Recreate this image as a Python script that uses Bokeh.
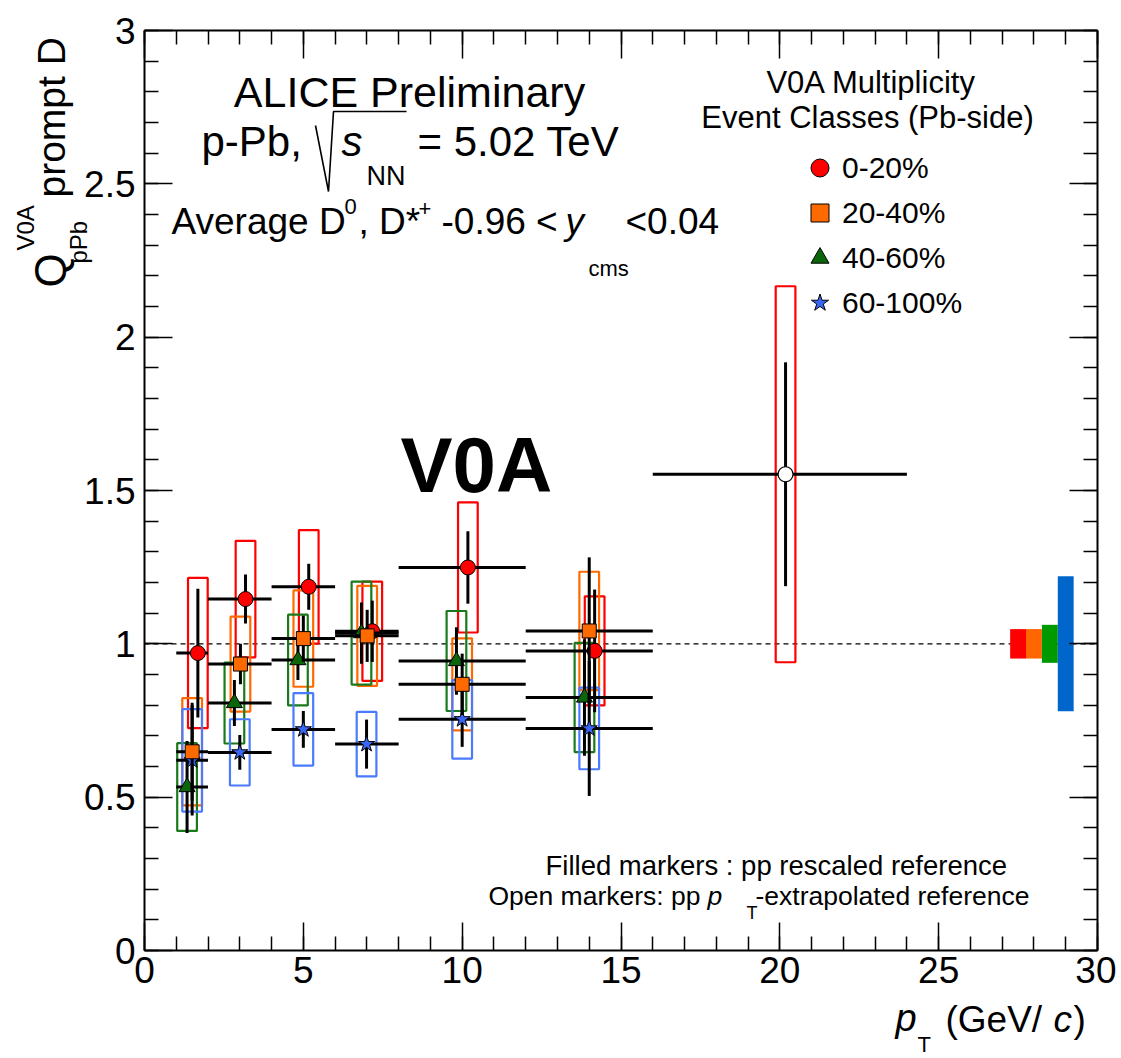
import numpy as np
from bokeh.plotting import figure
from bokeh.models import (Range1d, LinearAxis, SingleIntervalTicker, CustomJSTickFormatter,
                          Label, Legend, LegendItem)
from bokeh.embed import file_html
from bokeh.resources import INLINE

# ---------------- data ----------------
bin_lo = [1, 2, 4, 6, 8, 12]
bin_hi = [2, 4, 6, 8, 12, 16]

# 0-20 %
red_x = [1.68, 3.18, 5.17, 7.17, 10.18, 14.17]
red_y = [0.970, 1.146, 1.186, 1.041, 1.249, 0.977]
red_stat = [0.21, 0.08, 0.075, 0.10, 0.118, 0.20]
red_syst = [0.245, 0.19, 0.185, 0.162, 0.212, 0.178]
# 0-20 %, pp pT-extrapolated reference (open marker)
ext_lo = [16]
ext_hi = [24]
ext_x = [20.18]
ext_y = [1.553]
ext_stat = [0.365]
ext_syst = [0.613]

# 20-40 %
ora_x = [1.50, 3.02, 5.00, 7.01, 10.00, 14.00]
ora_y = [0.648, 0.934, 1.017, 1.026, 0.868, 1.042]
ora_stat = [0.16, 0.066, 0.075, 0.085, 0.10, 0.24]
ora_syst = [0.175, 0.155, 0.157, 0.163, 0.150, 0.193]

# 40-60 %
grn_x = [1.34, 2.83, 4.83, 6.83, 9.82, 13.85]
grn_y = [0.533, 0.807, 0.947, 1.035, 0.944, 0.825]
grn_stat = [0.15, 0.075, 0.065, 0.10, 0.11, 0.19]
grn_syst = [0.143, 0.132, 0.148, 0.168, 0.163, 0.178]

# 60-100 %
blu_x = [1.50, 3.00, 5.00, 6.99, 10.00, 14.00]
blu_y = [0.620, 0.646, 0.721, 0.673, 0.754, 0.724]
blu_stat = [0.18, 0.057, 0.06, 0.08, 0.09, 0.22]
blu_syst = [0.167, 0.108, 0.118, 0.105, 0.128, 0.133]

# normalisation uncertainties (boxes at unity)
norm_x = [27.5, 28.0, 28.5, 29.0]
norm_unc = [0.048, 0.048, 0.062, 0.220]

class_labels = ["0-20%", "20-40%", "40-60%", "60-100%"]
x_min, x_max = 0, 30
y_min, y_max = 0, 3
x_ticks_interval = 5
y_ticks_interval = 0.5

# ---------------- styles ----------------
FONT = "Liberation Sans"
C_RED = "#FF0000"
C_ORA = "#FF6A00"
C_GRN_M = "#0B660B"
C_GRN_B = "#1A7A1A"
C_BLU_M = "#3A66F5"
C_BLU_B = "#4A7BFF"
NORM_COLORS = ["#FF0000", "#FF6600", "#009900", "#0066CC"]
BOX_HW = 0.31
BASE_SHIFT = 0.37   # Label anchor sits this fraction of the font size above the baseline

W, H = 1116, 1056
# axes box position in page pixels
FL, FR, FT, FB = 144, 1097, 30, 950
sx = (FR - FL) / (x_max - x_min)
sy = (FB - FT) / (y_max - y_min)


def dx(px):
    return x_min + (px - FL) / sx


def dy(py):
    return y_min + (FB - py) / sy


# the frame fills the whole canvas; axes are pinned at the data box edges
p = figure(width=W, height=H,
           x_range=Range1d(dx(0), dx(W)), y_range=Range1d(dy(H), dy(0)),
           output_backend="svg", toolbar_location=None, min_border=0)
p.xgrid.visible = False
p.ygrid.visible = False
p.outline_line_color = None
p.background_fill_color = "white"
p.border_fill_color = "white"

xt = SingleIntervalTicker(interval=x_ticks_interval, num_minor_ticks=5)
yt = SingleIntervalTicker(interval=y_ticks_interval, num_minor_ticks=5)
fmt = CustomJSTickFormatter(code="return (Math.round(tick*10)/10).toString();")
blank = CustomJSTickFormatter(code="return '';")

bottom_ax = p.below[0]
left_ax = p.left[0]
bottom_ax.ticker = xt
left_ax.ticker = yt
bottom_ax.formatter = fmt
left_ax.formatter = fmt
bottom_ax.fixed_location = y_min
left_ax.fixed_location = x_min

top_ax = LinearAxis(ticker=xt, formatter=blank, fixed_location=y_max)
right_ax = LinearAxis(ticker=yt, formatter=blank, fixed_location=x_max)
p.add_layout(top_ax, "above")
p.add_layout(right_ax, "right")

for ax in [bottom_ax, top_ax]:
    ax.bounds = (x_min, x_max)
for ax in [left_ax, right_ax]:
    ax.bounds = (y_min, y_max)

for ax in [bottom_ax, left_ax, top_ax, right_ax]:
    ax.axis_line_color = "black"
    ax.axis_line_width = 2
    ax.major_tick_in = 28
    ax.major_tick_out = 0
    ax.minor_tick_in = 14
    ax.minor_tick_out = 0
    ax.major_tick_line_width = 1.5
    ax.minor_tick_line_width = 1.5
    ax.major_tick_line_color = "black"
    ax.minor_tick_line_color = "black"
    ax.major_label_text_font = FONT
    ax.major_label_text_font_size = "37px"
    ax.major_label_text_color = "black"

bottom_ax.major_label_standoff = 6
left_ax.major_label_standoff = 9

# dashed unity line
p.segment(x0=[x_min], y0=[1.0], x1=[x_max], y1=[1.0], line_color="black",
          line_width=1.2, line_dash="5 4")

# normalisation boxes
nx = np.array(norm_x)
nu = np.array(norm_unc)
p.quad(left=nx - 0.25, right=nx + 0.25, bottom=1 - nu, top=1 + nu,
       fill_color=NORM_COLORS, line_color=None)


def draw_boxes(x, y, syst, box_color):
    x = np.array(x, dtype=float)
    y = np.array(y, dtype=float)
    syst = np.array(syst, dtype=float)
    p.quad(left=x - BOX_HW, right=x + BOX_HW, bottom=y - syst, top=y + syst,
           fill_alpha=0, line_color=box_color, line_width=2.2)


def draw_errors(x, y, stat, lo, hi):
    x = np.array(x, dtype=float)
    y = np.array(y, dtype=float)
    stat = np.array(stat, dtype=float)
    p.segment(x0=lo, y0=y, x1=hi, y1=y, line_color="black", line_width=3)
    p.segment(x0=x, y0=y - stat, x1=x, y1=y + stat, line_color="black", line_width=3)


# systematic boxes
draw_boxes(red_x, red_y, red_syst, C_RED)
draw_boxes(ext_x, ext_y, ext_syst, C_RED)
draw_boxes(ora_x, ora_y, ora_syst, C_ORA)
draw_boxes(grn_x, grn_y, grn_syst, C_GRN_B)
draw_boxes(blu_x, blu_y, blu_syst, C_BLU_B)

# points with statistical errors
draw_errors(red_x, red_y, red_stat, bin_lo, bin_hi)
r_red = p.scatter(red_x, red_y, marker="circle", size=15, fill_color=C_RED,
                  line_color="black", line_width=1)
draw_errors(ext_x, ext_y, ext_stat, ext_lo, ext_hi)
p.scatter(ext_x, ext_y, marker="circle", size=15, fill_color="white",
          line_color="black", line_width=1.2)
draw_errors(grn_x, grn_y, grn_stat, bin_lo, bin_hi)
r_grn = p.scatter(grn_x, grn_y, marker="triangle", size=16, fill_color=C_GRN_M,
                  line_color="black", line_width=1)
draw_errors(blu_x, blu_y, blu_stat, bin_lo, bin_hi)
r_blu = p.scatter(blu_x, blu_y, marker="star", size=17, fill_color=C_BLU_M,
                  line_color="black", line_width=1)
draw_errors(ora_x, ora_y, ora_stat, bin_lo, bin_hi)
r_ora = p.scatter(ora_x, ora_y, marker="square", size=14, fill_color=C_ORA,
                  line_color="black", line_width=1)

# legend (rows 45 px apart, markers at x ~ 820 px)
legend = Legend(items=[LegendItem(label=class_labels[0], renderers=[r_red]),
                       LegendItem(label=class_labels[1], renderers=[r_ora]),
                       LegendItem(label=class_labels[2], renderers=[r_grn]),
                       LegendItem(label=class_labels[3], renderers=[r_blu])],
                location=(797, H - 325), orientation="vertical",
                glyph_width=45, glyph_height=45, label_height=45, label_standoff=0,
                spacing=0, padding=0, margin=0,
                border_line_color=None, background_fill_alpha=0,
                label_text_font=FONT, label_text_font_size="30px",
                label_text_color="black")
p.add_layout(legend)


def lab(text, px, py, size, align="left", style="normal", rotated=False,
        font=FONT, color="black"):
    """px, py: page position of the text's baseline start (or centre)."""
    if rotated:
        ax_, ay_ = px - BASE_SHIFT * size, py
        angle = np.pi / 2
    else:
        ax_, ay_ = px, py - BASE_SHIFT * size
        angle = 0.0
    p.add_layout(Label(x=dx(ax_), y=dy(ay_), text=text, text_font=font,
                       text_font_size=f"{size}px", text_align=align,
                       text_baseline="alphabetic", text_font_style=style,
                       angle=angle, text_color=color))


# legend header
lab("V0A Multiplicity", 871, 93, 31, align="center")
lab("Event Classes (Pb-side)", 867, 128, 31, align="center")

# ALICE header
lab("ALICE Preliminary", 409, 107, 43, align="center")
lab("p-Pb,", 201, 157, 42)
lab("s", 341, 157, 42, style="italic")
lab("NN", 366, 185, 27)
lab("= 5.02 TeV", 417, 157, 42)
# radical sign of sqrt(s_NN)
p.line(x=[dx(315), dx(328), dx(333), dx(406)], y=[dy(125), dy(191), dy(111), dy(111)],
       line_color="black", line_width=1.6)

lab("Average D", 171, 235, 37)
lab("0", 344, 214, 22)
lab(", D*", 358, 235, 37)
lab("+", 418, 216, 22)
lab("-0.96 <", 441, 235, 37)
lab("y", 565, 235, 37, style="italic")
lab("cms", 588, 276, 22)
lab("<0.04", 625, 235, 37)

# big V0A
lab("V0A", 400, 493, 78, style="bold")

# bottom notes
lab("Filled markers : pp rescaled reference", 545, 875, 27.5)
lab("Open markers: pp", 700, 905, 26.5, align="right")
lab("p", 707, 905, 26.5, style="italic")
lab("T", 746, 919, 18)
lab("-extrapolated reference", 755, 905, 26.5)

# y-axis title (rotated)
lab("Q", 66, 287, 44, rotated=True)
lab("V0A", 34, 250, 24, rotated=True)
lab("pPb", 87, 263, 24, rotated=True)
lab("prompt D", 65, 197, 39, rotated=True)

# x-axis title
lab("p", 895, 1032, 38, style="italic")
lab("T", 917, 1052, 22)
lab("(GeV/", 945, 1033, 37)
lab("c", 1053, 1033, 37, style="italic")
lab(")", 1073, 1033, 37)

open("out.html", "w").write(file_html(p, INLINE))
